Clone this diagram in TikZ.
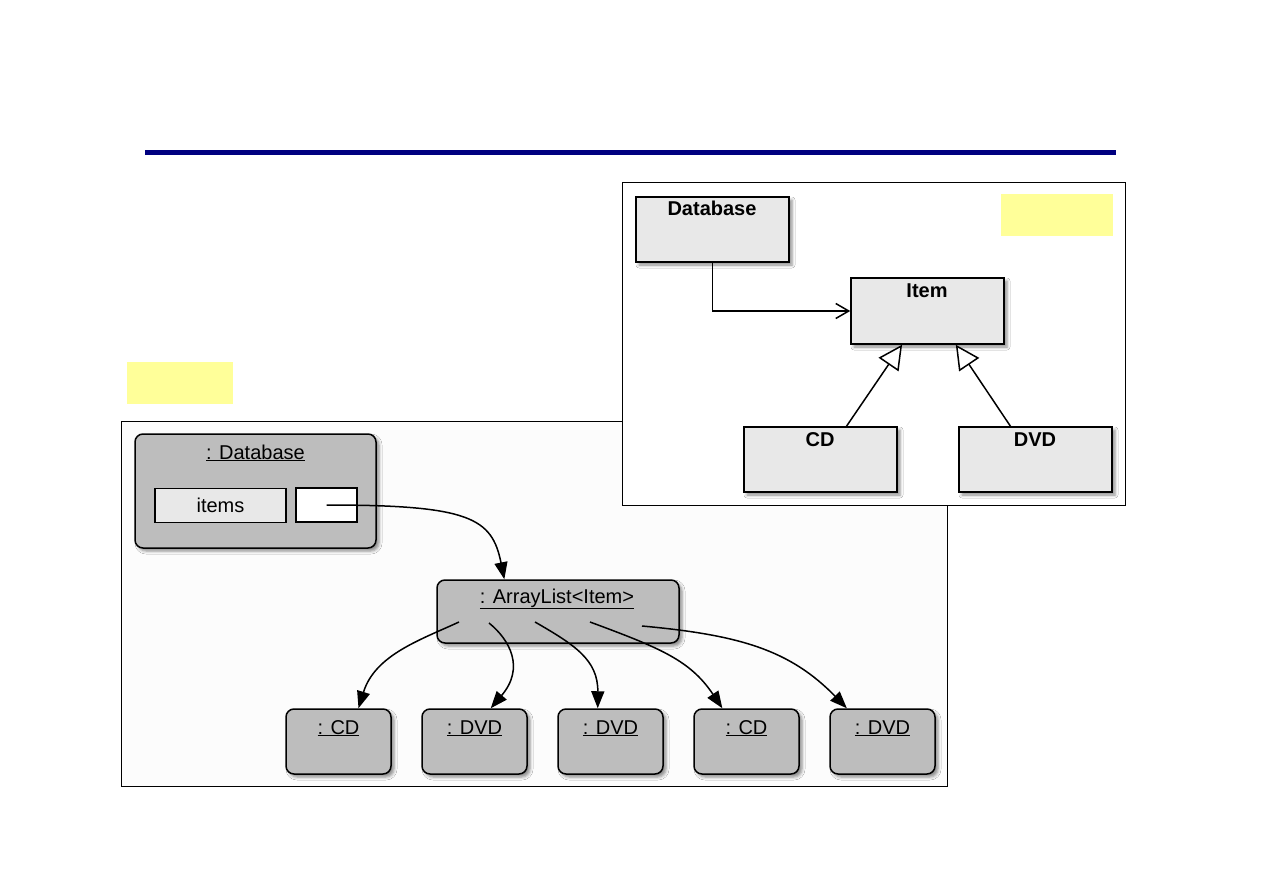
\documentclass[tikz,border=0pt]{standalone}
\usepackage{fontspec}
\setmainfont{Liberation Sans}
\usetikzlibrary{arrows.meta,positioning,calc,shadows.blur}
\definecolor{Navy}{HTML}{000080}
\definecolor{Note}{HTML}{FFFF99}
\definecolor{ObjGray}{HTML}{BDBDBD}
\definecolor{ClsGray}{HTML}{E8E8E8}
\definecolor{Pane}{HTML}{FCFCFC}
\tikzset{
 every node/.style={font=\fontsize{20}{24}\selectfont,text=black},
 soft/.style={blur shadow={shadow xshift=3pt,shadow yshift=-3pt,shadow blur radius=3pt,shadow opacity=45}},
 obj/.style={draw,line width=1.5pt,fill=ObjGray,rounded corners=8pt,inner sep=0pt,soft},
 lower/.style={obj,minimum width=105pt,minimum height=65pt},
 cls/.style={draw,line width=1.5pt,fill=ClsGray,inner sep=0pt,minimum width=153pt,minimum height=65pt,soft},
 slot/.style={draw,line width=1.5pt,inner sep=0pt,minimum height=34pt},
 ttl/.style={anchor=base,inner sep=0pt},
 bttl/.style={ttl,font=\fontsize{20}{24}\selectfont\bfseries},
 link/.style={-{Triangle[length=17pt,width=13pt]},line width=1.5pt},
 uses/.style={-{Straight Barb[length=13pt,width=15pt]},line width=1.5pt},
 isa/.style={-{Triangle[open,length=24pt,width=24pt,fill=white]},line width=1.5pt},
 note/.style={fill=Note,inner sep=0pt},
 pane/.style={draw,fill=Pane,line width=0.8pt,inner sep=0pt},
}
\begin{document}
\begin{tikzpicture}[x=1pt,y=-1pt]
 \fill[white](0,0)rectangle(1263,893);
 \useasboundingbox(0,0)rectangle(1263,893);
 \draw[Navy,line width=5pt](145,153)--(1116,153);
 % object diagram
 \node[pane,minimum width=826pt,minimum height=365pt](objpane)at(534,603.5){};
 \node[note,minimum width=106pt,minimum height=42pt](objnote)at(180,383){};
 \node[obj,minimum width=241pt,minimum height=114pt](db)at(255.5,491){};
 \node[ttl](dbt)at(255.5,459){\underline{: Database}};
 \node[slot,fill=ClsGray,minimum width=131pt](items)at(220.5,505.5){items};
 \node[slot,fill=white,minimum width=61pt](refbox)at(326.5,505){};
 \node[obj,minimum width=242pt,minimum height=63pt](alist)at(558,611.5){};
 \node[ttl](alistt)at(557,603){\underline{: ArrayList<Item>}};
 \foreach \x/\n/\t in {338.5/cd1/CD,474.5/dvd1/DVD,610.5/dvd2/DVD,746.5/cd2/CD,882.5/dvd3/DVD}{
 \node[lower](\n)at(\x,741.5){};
 \node[ttl](\n t)at(\x,734){\underline{: \t}};}
 \draw[link](refbox.center)..controls(470,505)and(492,518)..(alist.149);
 \coordinate(s1)at(459,622);
 \coordinate(s2)at(489,623);
 \coordinate(s3)at(535,622);
 \coordinate(s4)at(590,622);
 \coordinate(s5)at(642,626);
 \draw[link](s1)..controls(420,640)and(375,655)..(cd1.59);
 \draw[link](s2)..controls(510,640)and(525,668)..(dvd1.64);
 \draw[link](s3)..controls(575,645)and(598,660)..(dvd2.111);
 \draw[link](s4)..controls(660,648)and(690,660)..(cd2.126);
 \draw[link](s5)..controls(740,635)and(790,650)..(dvd3.137);
 % class diagram
 \node[pane,fill=white,minimum width=503pt,minimum height=323pt](clspane)at(873.5,343.5){};
 \node[note,minimum width=112pt,minimum height=42pt](clsnote)at(1057,215){};
 \node[cls](cdb)at(712.5,229.5){};
 \node[bttl](cdbt)at(712,216){Database};
 \node[cls,minimum height=66pt](item)at(927.5,311){};
 \node[bttl](itemt)at(927,298){Item};
 \node[cls](ccd)at(820.5,459.5){};
 \node[bttl](ccdt)at(820,446){CD};
 \node[cls](cdvd)at(1035.5,459.5){};
 \node[bttl](cdvdt)at(1035,446){DVD};
 \draw[uses](cdb.south)|-(item.west);
 \draw[isa](ccd.52)--(item.-127);
 \draw[isa](cdvd.127)--(item.-50);
\end{tikzpicture}
\end{document}
